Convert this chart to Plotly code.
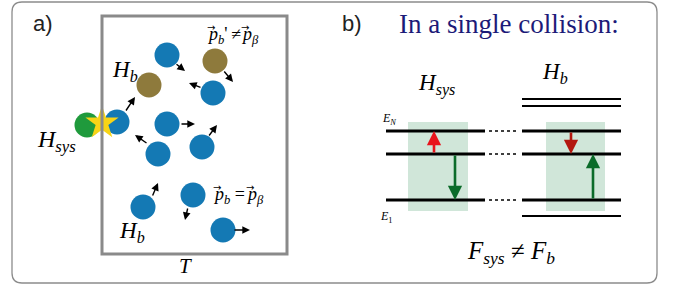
import plotly.graph_objects as go

W, H = 684, 289

# Panel a: particles
blue_x = [167, 213, 117, 167, 158, 202, 143, 193, 223]
blue_y = [55, 93, 122, 124, 154, 147, 207, 195, 230]
brown_x = [149, 215]
brown_y = [85, 61]
sys_x, sys_y = [87], [125]
star_x, star_y = [102], [123]

# momentum arrows (tail -> head)
arr_x0 = [175, 202, 125, 180, 148, 208, 152, 188, 233, 223]
arr_y0 = [63, 88, 112, 124, 144, 137, 197, 207, 230, 70]
arr_x1 = [185, 189, 135, 195, 135, 217, 158, 185, 250, 233]
arr_y1 = [71, 83, 97, 124, 135, 125, 183, 220, 230, 82]

# Panel b: energy levels
levels_y = [131, 154, 200]
bath_extra_y = [99, 106, 216]
trans_x = [434, 455, 571, 593]
trans_y0 = [154, 154, 131, 200]
trans_y1 = [131, 200, 154, 154]
trans_col = ["#e8141c", "#0b6b2a", "#b3170f", "#0b6b2a"]

SERIF = "Liberation Serif"
fig = go.Figure()

shapes = []
r = 10
x0, y0, x1, y1 = 12, 2, 657, 283
path = (f"M {x0+r},{y0} L {x1-r},{y0} Q {x1},{y0} {x1},{y0+r} L {x1},{y1-r} "
        f"Q {x1},{y1} {x1-r},{y1} L {x0+r},{y1} Q {x0},{y1} {x0},{y1-r} "
        f"L {x0},{y0+r} Q {x0},{y0} {x0+r},{y0} Z")
shapes.append(dict(type="path", path=path, line=dict(color="#8c8c8c", width=1.3)))
shapes.append(dict(type="rect", x0=102, y0=16, x1=287, y1=254,
                   line=dict(color="#8a8a8a", width=3)))
for gx0, gx1 in [(408, 468), (546, 605)]:
    shapes.append(dict(type="rect", x0=gx0, x1=gx1, y0=122, y1=211,
                       fillcolor="rgba(150,200,170,0.45)", line=dict(width=0), layer="below"))
for ly in levels_y:
    shapes.append(dict(type="line", x0=386, x1=485, y0=ly, y1=ly, line=dict(color="black", width=3)))
    shapes.append(dict(type="line", x0=522, x1=621, y0=ly, y1=ly, line=dict(color="black", width=3)))
    shapes.append(dict(type="line", x0=489, x1=519, y0=ly, y1=ly,
                       line=dict(color="black", width=1.3, dash="dot")))
for ly in bath_extra_y:
    shapes.append(dict(type="line", x0=522, x1=621, y0=ly, y1=ly, line=dict(color="black", width=2)))

fig.add_trace(go.Scatter(x=sys_x, y=sys_y, mode="markers",
                         marker=dict(size=25, color="#1f9a3c", line=dict(width=0))))
fig.add_trace(go.Scatter(x=blue_x, y=blue_y, mode="markers",
                         marker=dict(size=25, color="#1479b4", line=dict(width=0))))
fig.add_trace(go.Scatter(x=brown_x, y=brown_y, mode="markers",
                         marker=dict(size=25, color="#8e7a3c", line=dict(width=0))))
fig.add_trace(go.Scatter(x=star_x, y=star_y, mode="markers",
                         marker=dict(size=25, symbol="star", color="#f7d416", line=dict(width=0))))

ann = []
for a, b, c, d in zip(arr_x0, arr_y0, arr_x1, arr_y1):
    ann.append(dict(x=c, y=d, ax=a, ay=b, xref="x", yref="y", axref="x", ayref="y",
                    text="", showarrow=True, arrowhead=2, arrowsize=1.1, arrowwidth=1.4,
                    arrowcolor="black", standoff=0, startstandoff=0))
for tx, ty0, ty1, col in zip(trans_x, trans_y0, trans_y1, trans_col):
    ann.append(dict(x=tx, y=ty1, ax=tx, ay=ty0, xref="x", yref="y", axref="x", ayref="y",
                    text="", showarrow=True, arrowhead=2, arrowsize=1.1, arrowwidth=2.6,
                    arrowcolor=col, standoff=0, startstandoff=0))

def txt(x, y, s, size=20, family=SERIF, color="black", xanchor="center"):
    ann.append(dict(x=x, y=y, xref="x", yref="y", text=s, showarrow=False,
                    font=dict(family=family, size=size, color=color), xanchor=xanchor, yanchor="middle"))

txt(43, 23, "a)", 22, "Liberation Sans", "#222")
txt(352, 23, "b)", 22, "Liberation Sans", "#222")
txt(509, 24, "In a single collision:", 27, SERIF, "#1c1a78")
txt(185, 266, "<i>T</i>", 21)
txt(125, 71, "<i>H</i><sub><i>b</i></sub>", 23)
txt(132, 232, "<i>H</i><sub><i>b</i></sub>", 23)
txt(56, 141, "<i>H</i><sub><i>sys</i></sub>", 24)
# momentum labels (split so the vector arrows sit over each p)
txt(205, 35, "<i>p</i><sub><i>b</i></sub>'\u2009\u2260", 18, xanchor="left")
txt(239, 35, "<i>p</i><sub><i>\u03b2</i></sub>", 18, xanchor="left")
txt(211, 27, "\u2192", 10, "DejaVu Sans")
txt(245, 27, "\u2192", 10, "DejaVu Sans")
txt(211, 195, "<i>p</i><sub><i>b</i></sub> =", 18, xanchor="left")
txt(244, 195, "<i>p</i><sub><i>\u03b2</i></sub>", 18, xanchor="left")
txt(217, 187, "\u2192", 10, "DejaVu Sans")
txt(250, 187, "\u2192", 10, "DejaVu Sans")
txt(436, 84, "<i>H</i><sub><i>sys</i></sub>", 23)
txt(555, 73, "<i>H</i><sub><i>b</i></sub>", 23)
txt(389, 119, "<i>E</i><sub><i>N</i></sub>", 12)
txt(386, 217, "<i>E</i><sub>1</sub>", 12)
txt(511, 252, "<i>F</i><sub><i>sys</i></sub> \u2260 <i>F</i><sub><i>b</i></sub>", 25)

fig.update_layout(width=W, height=H, margin=dict(l=0, r=0, t=0, b=0),
                  paper_bgcolor="white", plot_bgcolor="white", showlegend=False,
                  shapes=shapes, annotations=ann,
                  xaxis=dict(range=[0, W], visible=False, fixedrange=True),
                  yaxis=dict(range=[H, 0], visible=False, fixedrange=True))
fig.write_html("out.html", config={"displayModeBar": False},
               post_script="document.body.style.margin='0px';document.body.style.overflow='hidden';")
